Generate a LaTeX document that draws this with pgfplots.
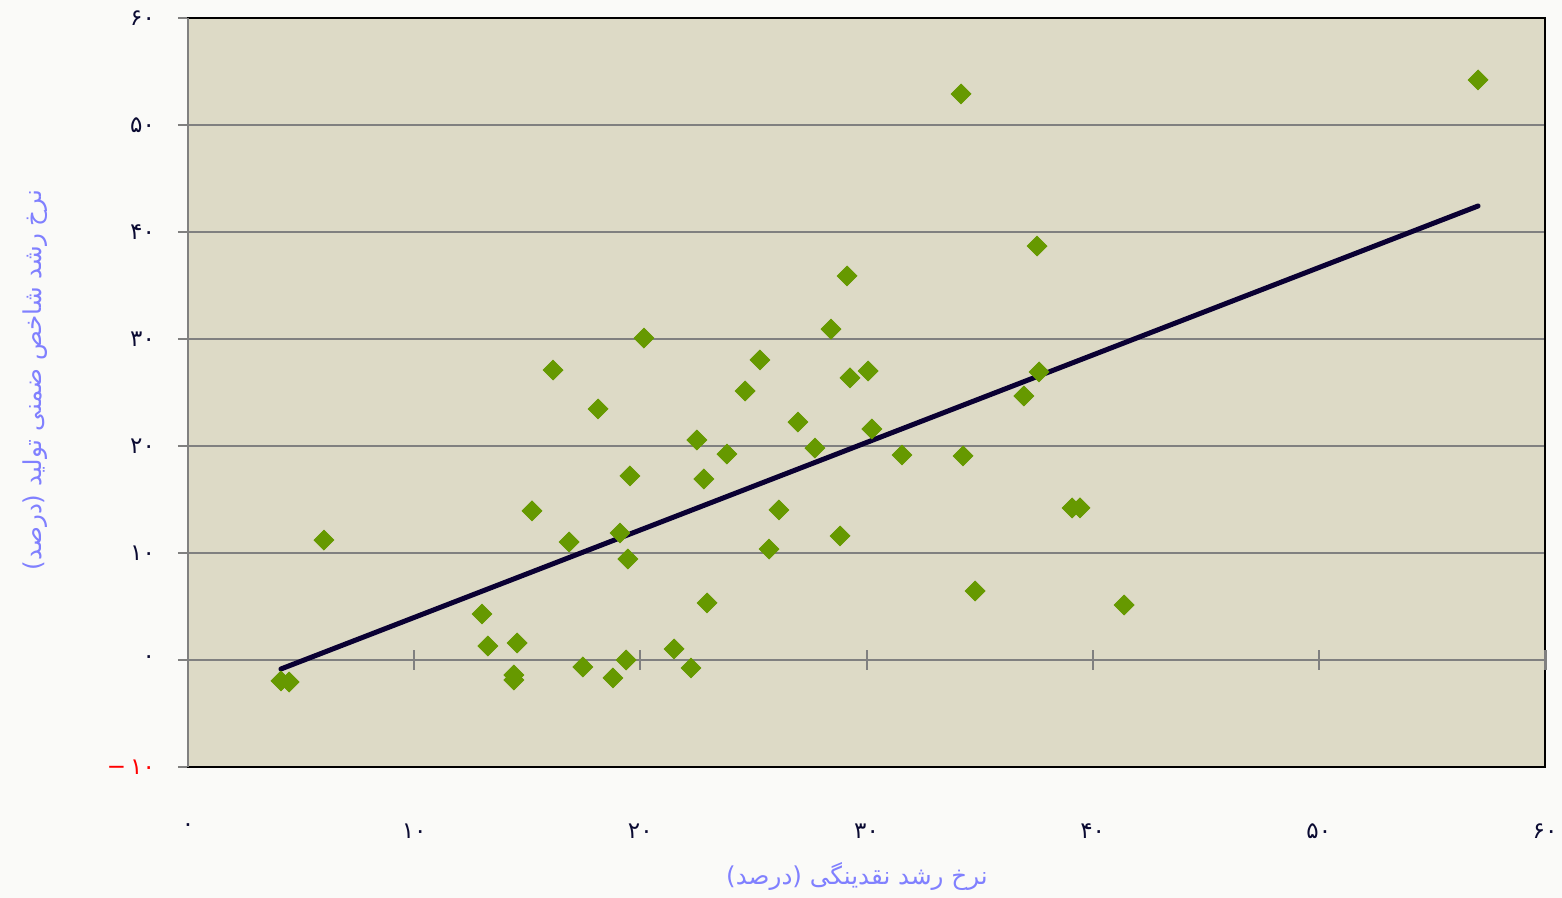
\documentclass[border=0pt]{standalone}
\usepackage{fontspec}
\usepackage{pgfplots}
\pgfplotsset{compat=1.18}
\TeXXeTstate=1
\newfontfamily\arabicfont[Script=Arabic]{DejaVu Sans}
\definecolor{pagebg}{RGB}{250,250,248}
\definecolor{plotbg}{RGB}{221,218,198}
\definecolor{mkgreen}{RGB}{102,153,0}
\definecolor{trend}{RGB}{10,0,51}
\definecolor{lblblue}{RGB}{128,128,255}
\definecolor{tickcol}{RGB}{10,10,50}
\begin{document}
\begin{tikzpicture}
\path[use as bounding box, fill=pagebg] (0,0) rectangle (781pt,449pt);
\begin{axis}[
  at={(94pt,65.5pt)}, anchor=south west,
  scale only axis, width=678.5pt, height=374.5pt,
  xmin=0, xmax=60, ymin=-10, ymax=60,
  axis background/.style={fill=plotbg},
  axis line style={black, line width=1pt},
  xtick={0,10,...,60},
  xticklabels={۰,۱۰,۲۰,۳۰,۴۰,۵۰,۶۰},
  ytick={-10,0,...,60},
  yticklabels={\textcolor{red}{\mbox{−}\kern2pt\mbox{۱۰}},۰,۱۰,۲۰,۳۰,۴۰,۵۰,۶۰},
  xtick style={draw=none},
  ytick style={draw=gray, line width=1pt},
  tick align=outside, major tick length=5pt,
  ticklabel style={font=\arabicfont\fontsize{11.5}{13}\selectfont, text=tickcol},
  xticklabel style={yshift=-20pt},
  yticklabel style={xshift=-8pt},
  ymajorgrids, grid style={gray, line width=0.8pt},
  xtick pos=bottom, ytick pos=left,
  clip=false,
]
\addplot[only marks, mark=square*, mark size=3.5pt, mark options={rotate=45, fill=mkgreen, draw=mkgreen}] coordinates {
(4.11,-1.96) (4.47,-2.06) (6.01,11.21) (13.0,4.30) (13.26,1.31) (14.41,-1.40) (14.41,-1.87) (14.55,1.59)
(15.21,13.93) (16.14,27.10) (16.85,11.03) (17.46,-0.65) (18.13,23.46) (18.79,-1.68) (19.10,11.87) (19.37,0.0)
(19.45,9.44) (19.54,17.20) (20.16,30.09) (21.49,1.03) (22.24,-0.75) (22.5,20.56) (22.81,16.92) (22.95,5.33)
(23.83,19.25) (24.63,25.14) (25.29,28.04) (25.69,10.37) (26.13,14.02) (26.97,22.24) (27.72,19.81) (28.43,30.93)
(28.83,11.59) (29.14,35.89) (29.27,26.36) (30.07,27.01) (30.24,21.59) (31.57,19.16) (34.18,52.90) (34.27,19.07)
(34.80,6.45) (36.96,24.67) (37.54,38.69) (37.63,26.92) (39.09,14.21) (39.44,14.21) (41.39,5.14) (57.04,54.21)
};
\addplot[trend, line width=2.5pt, line cap=round] coordinates {(4.11,-0.84) (57.04,42.43)};
\draw[gray, line width=1pt] (rel axis cs:0,0) -- (rel axis cs:0,1);
\pgfplotsinvokeforeach{10,20,30,40,50}{\draw[gray, line width=1pt] (axis cs:#1,-0.9) -- (axis cs:#1,0.9);}
\draw[gray, line width=1.5pt] (axis cs:60,-0.9) -- (axis cs:60,0.9);
\end{axis}
\node[text=lblblue, font=\arabicfont\fontsize{12.3}{14}\selectfont] at (428.5pt,11pt) {\beginR نرخ رشد نقدینگی (درصد)\endR};
\node[text=lblblue, font=\arabicfont\fontsize{12.3}{14}\selectfont, rotate=90] at (17.5pt,259pt) {\beginR نرخ رشد شاخص ضمنی تولید (درصد)\endR};
\end{tikzpicture}
\end{document}
